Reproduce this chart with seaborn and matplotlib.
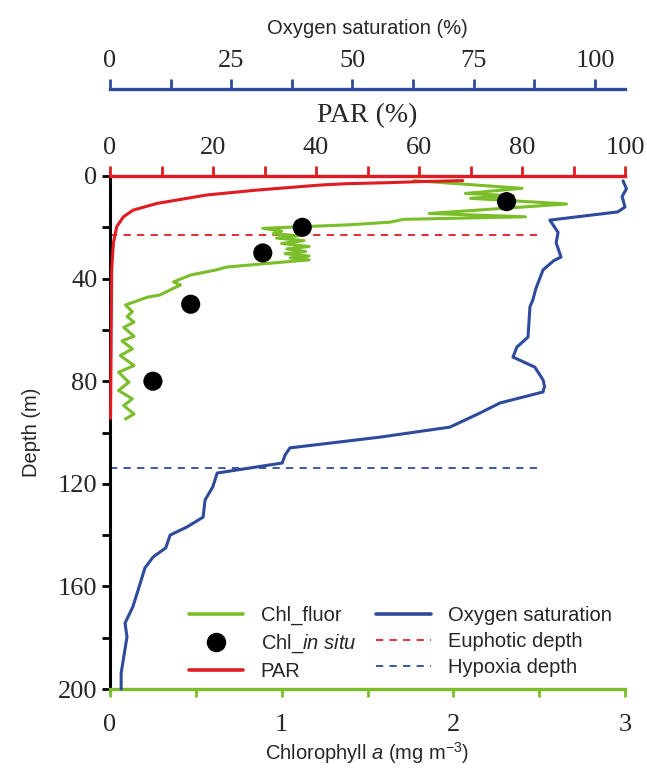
import seaborn as sns
import matplotlib.pyplot as plt
from matplotlib.lines import Line2D
from matplotlib.ticker import MultipleLocator

# ---- values ----
# fluorescence chlorophyll profile (mg m-3) vs depth (m)
chl_fluor = [1.77, 2.40, 2.07, 2.35, 2.10, 2.66, 1.86, 2.42, 1.71, 1.63, 1.40,
             0.89, 1.00, 0.95, 1.10, 0.97, 1.13, 1.00, 1.16, 1.03, 1.14, 1.02,
             1.16, 1.05, 1.16, 0.95, 0.68, 0.62, 0.47, 0.37, 0.41, 0.29, 0.22,
             0.09, 0.13, 0.10, 0.14, 0.08, 0.14, 0.07, 0.13, 0.06, 0.14, 0.05,
             0.11, 0.05, 0.13, 0.08, 0.14, 0.09]
chl_fluor_depth = [1.8, 4.8, 6.8, 7.7, 8.7, 10.9, 14.6, 15.9, 16.9, 18.0, 19.0,
                   20.4, 21.5, 22.5, 23.3, 24.2, 25.2, 26.3, 27.5, 28.4, 29.4, 30.3,
                   31.2, 31.9, 32.7, 33.9, 35.5, 36.6, 38.6, 41.3, 42.5, 46.4, 47.2,
                   50.3, 52.9, 54.8, 57.0, 59.0, 62.5, 64.3, 67.4, 70.0, 73.9, 76.5,
                   80.4, 83.6, 86.9, 89.5, 92.8, 94.7]

# discrete in situ chlorophyll samples
chl_insitu = [2.31, 1.12, 0.89, 0.47, 0.25]
chl_insitu_depth = [10, 20, 30, 50, 80]

# PAR (%) profile
par = [68.5, 60, 54, 46, 41, 28.5, 18.8, 9.1, 4.5, 2.6, 1.3, 0.65, 0.33, 0.2, 0.1]
par_depth = [1.8, 2.2, 2.6, 3.0, 3.5, 5.5, 7.4, 10.7, 13.3, 15.9, 19.8, 26.2,
             36.6, 70, 94.5]

# oxygen saturation (%) profile
oxygen = [105.8, 106.5, 105.6, 106.2, 104.7, 90.7, 92.4, 92.0, 93.0, 91.5, 89.3,
          87.8, 87.2, 86.6, 86.2, 83.9, 83.1, 87.6, 89.3, 89.6, 89.3, 80.4, 76.3,
          70.1, 55.7, 37.1, 36.1, 35.5, 22.1, 21.2, 19.6, 19.2, 15.9, 12.4, 11.5,
          8.9, 7.2, 6.0, 4.7, 3.1, 3.5, 2.3, 2.3]
oxygen_depth = [1.9, 5.0, 8.0, 12.1, 14.0, 17.2, 22.0, 26.0, 31.6, 33.0, 36.6,
                44.0, 48.3, 51.0, 62.8, 66.7, 70.6, 74.5, 79.5, 82.0, 84.2, 88.5, 92.4,
                97.9, 101.8, 106.0, 108.8, 111.9, 115.8, 121.2, 126.3, 133.0, 136.8,
                140.0, 145.0, 148.5, 152.8, 160.2, 168.0, 174.3, 179.7, 193.8, 200.0]

euphotic_depth = 23
hypoxia_depth = 114
ref_line_end = 2.52   # chl units, where the dashed lines stop

GREEN = "#7abf2a"
RED = "#e01b22"
BLUE = "#2d4a9c"

sns.set_style("ticks")
plt.rcParams['font.family'] = ['Liberation Serif', 'DejaVu Serif']
plt.rcParams['mathtext.fontset'] = 'custom'
plt.rcParams['mathtext.rm'] = 'Liberation Sans'
plt.rcParams['mathtext.it'] = 'Liberation Sans:italic'
SANS = ['Liberation Sans', 'DejaVu Sans']

fig = plt.figure(figsize=(6.47, 7.69), dpi=100)
ax = fig.add_axes([110 / 647, 1 - 689 / 769, 515 / 647, 513 / 769])
ax_par = ax.twiny()
ax_o2 = ax.twiny()

# chlorophyll on the bottom axis
sns.lineplot(x=chl_fluor, y=chl_fluor_depth, sort=False, estimator=None,
             color=GREEN, lw=2.2, ax=ax, zorder=3)
sns.scatterplot(x=chl_insitu, y=chl_insitu_depth, color="black", s=190,
                edgecolor="none", ax=ax, zorder=5)
ax.plot([0, ref_line_end], [euphotic_depth] * 2, color=RED, lw=1.3,
        ls=(0, (4, 3.5)), zorder=2)
ax.plot([0, ref_line_end], [hypoxia_depth] * 2, color=BLUE, lw=1.3,
        ls=(0, (4, 3.5)), zorder=2)

# PAR on the first top axis
sns.lineplot(x=par, y=par_depth, sort=False, estimator=None, color=RED,
             lw=2.2, ax=ax_par, clip_on=False, zorder=4)

# oxygen on the outer top axis
sns.lineplot(x=oxygen, y=oxygen_depth, sort=False, estimator=None, color=BLUE,
             lw=2.2, ax=ax_o2, clip_on=False)

ax.set_xlim(0, 3)
ax.set_ylim(200, 0)
ax_par.set_xlim(0, 100)
ax_o2.set_xlim(0, 106.2)

# spines
for a in (ax, ax_par, ax_o2):
    for s in a.spines.values():
        s.set_visible(False)
ax.spines['bottom'].set_visible(True)
ax.spines['bottom'].set_color(GREEN)
ax.spines['bottom'].set_linewidth(2.4)
ax.spines['left'].set_visible(True)
ax.spines['left'].set_color("black")
ax.spines['left'].set_linewidth(2.2)
ax_par.spines['top'].set_visible(True)
ax_par.spines['top'].set_color(RED)
ax_par.spines['top'].set_linewidth(2.4)
ax_o2.spines['top'].set_visible(True)
ax_o2.spines['top'].set_color(BLUE)
ax_o2.spines['top'].set_linewidth(2.4)
ax_o2.spines['top'].set_position(('outward', 62.6))

# ticks
ax.xaxis.set_major_locator(MultipleLocator(1))
ax.xaxis.set_minor_locator(MultipleLocator(0.5))
ax.yaxis.set_major_locator(MultipleLocator(40))
ax.yaxis.set_minor_locator(MultipleLocator(20))
ax_par.xaxis.set_major_locator(MultipleLocator(20))
ax_par.xaxis.set_minor_locator(MultipleLocator(10))
ax_o2.xaxis.set_major_locator(MultipleLocator(25))
ax_o2.xaxis.set_minor_locator(MultipleLocator(12.5))

ax.tick_params(axis='x', which='both', length=6, width=2, color=GREEN,
               labelsize=19, pad=12)
ax.tick_params(axis='y', which='both', length=6, width=2, color="black",
               labelsize=19, pad=3)
ax_par.tick_params(axis='x', which='both', length=7, width=2, color=RED,
                   labelsize=19, pad=5)
ax_o2.tick_params(axis='x', which='both', length=7, width=2, color=BLUE,
                  labelsize=19, pad=5)
ax_par.tick_params(axis='y', which='both', left=False, right=False,
                   labelleft=False, labelright=False)
ax_o2.tick_params(axis='y', which='both', left=False, right=False,
                  labelleft=False, labelright=False)

# axis titles
ax.set_xlabel(r"Chlorophyll $\mathit{a}$ (mg m$^{-3}$)", fontsize=14.5,
              family=SANS, labelpad=3)
ax.set_ylabel("Depth (m)", fontsize=14.5, family=SANS, labelpad=12)
ax_par.set_xlabel("PAR (%)", fontsize=20, labelpad=11)
ax_o2.set_xlabel("Oxygen saturation (%)", fontsize=14.5, family=SANS,
                 labelpad=12)

# legend
handles = [
    Line2D([], [], color=GREEN, lw=2.6),
    Line2D([], [], color="black", marker="o", ls="none", ms=13),
    Line2D([], [], color=RED, lw=2.6),
    Line2D([], [], color=BLUE, lw=2.6),
    Line2D([], [], color=RED, lw=1.3, ls=(0, (4, 3.5))),
    Line2D([], [], color=BLUE, lw=1.3, ls=(0, (4, 3.5))),
]
labels = ["Chl_fluor", r"Chl_$\mathit{in\ situ}$", "PAR",
          "Oxygen saturation", "Euphotic depth", "Hypoxia depth"]
fig.legend(handles, labels, ncol=2, frameon=False, loc="upper left",
           bbox_to_anchor=(179 / 647, 1 - 596 / 769), borderpad=0,
           handlelength=2.7, handletextpad=0.85, columnspacing=1.0,
           labelspacing=0.35, prop={'family': SANS, 'size': 14.5})

fig.savefig("out.png", dpi=100, facecolor="white")
